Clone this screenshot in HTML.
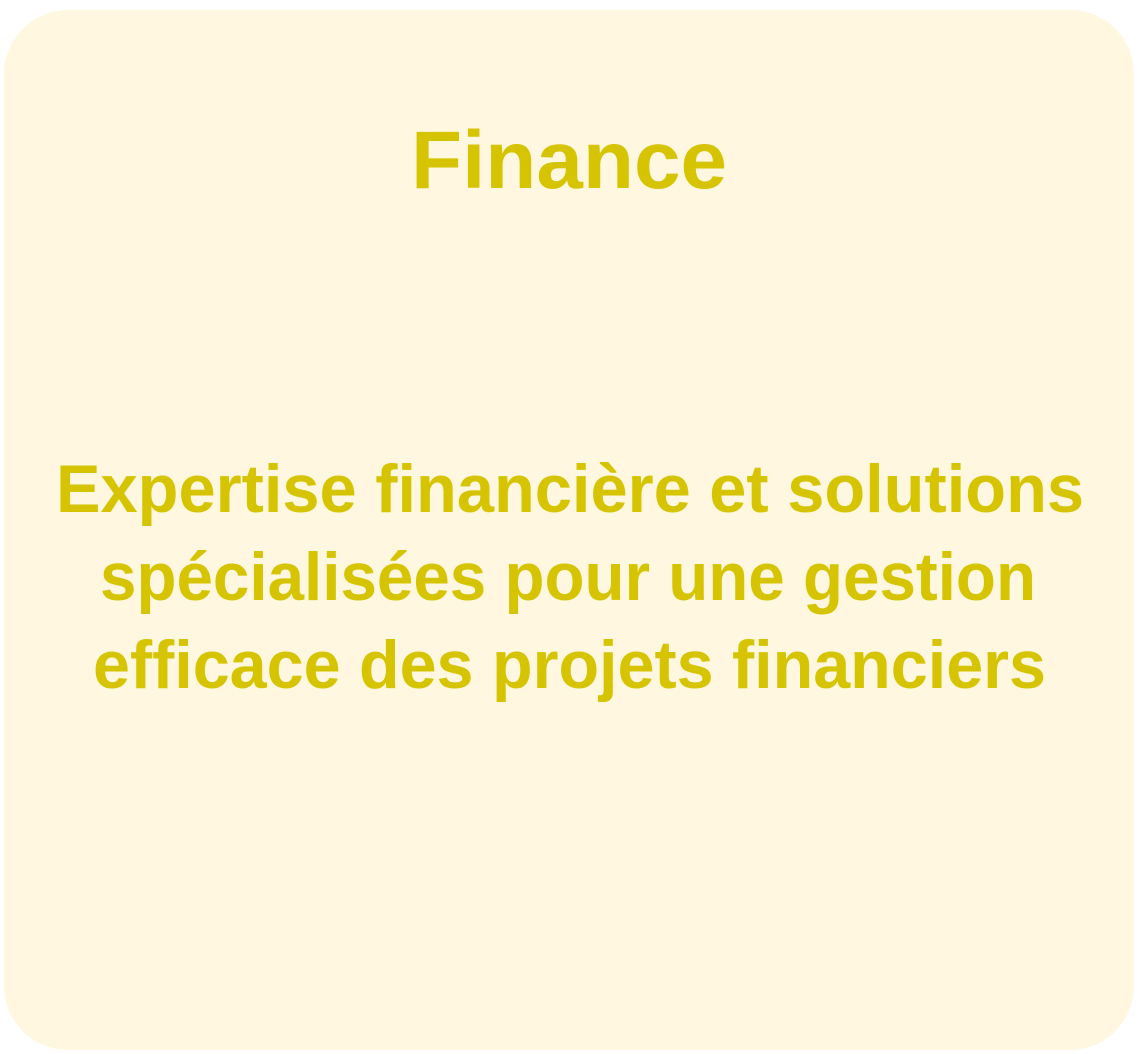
<!DOCTYPE html>
<html><head><meta charset="utf-8"><style>
html,body{margin:0;padding:0;background:#fff;width:1144px;height:1054px;overflow:hidden}
svg{display:block}
text{font-family:"Liberation Sans",sans-serif;font-weight:bold;fill:#d6c400}
</style></head><body>
<svg width="1144" height="1054">
<rect x="4" y="10" width="1130" height="1040" rx="64" ry="64" fill="#fff7e0"/>
<text x="411" y="188" font-size="82" textLength="316" lengthAdjust="spacingAndGlyphs">Finance</text>
<text x="56" y="512" font-size="68" textLength="1028" lengthAdjust="spacingAndGlyphs">Expertise financière et solutions</text>
<text x="100" y="600" font-size="68" textLength="936" lengthAdjust="spacingAndGlyphs">spécialisées pour une gestion</text>
<text x="93" y="688" font-size="68" textLength="953" lengthAdjust="spacingAndGlyphs">efficace des projets financiers</text>
</svg>
</body></html>
